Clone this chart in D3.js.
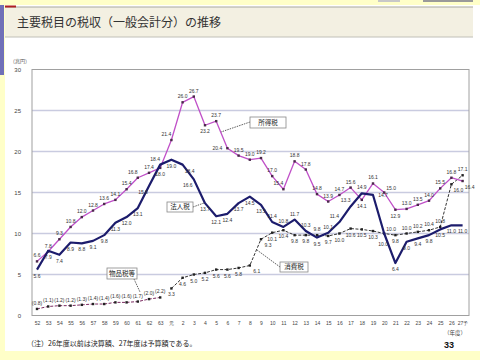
<!DOCTYPE html>
<html><head><meta charset="utf-8">
<script src="https://cdn.jsdelivr.net/npm/d3@7"></script>
<style>
html,body{margin:0;padding:0;background:#ffffc8;}
svg{display:block;font-family:"Noto Sans CJK JP","Noto Sans",sans-serif;}
</style></head><body>
<svg id="c" width="480" height="360"></svg>
<script>
// ---------------- DATA ----------------
const years = ["52","53","54","55","56","57","58","59","60","61","62","63","元",
  "2","3","4","5","6","7","8","9","10","11","12","13","14","15","16","17","18","19",
  "20","21","22","23","24","25","26","27予"];
const incomeTax = [6.6,7.8,9.3,10.8,12.0,12.8,13.6,14.1,15.4,16.8,17.4,18.0,21.4,
  26.0,26.7,23.2,23.7,20.4,19.5,19.0,19.2,17.0,15.4,18.8,17.8,14.8,13.9,14.7,15.6,14.1,16.1,
  15.0,12.9,13.0,13.5,14.0,15.5,16.8,16.4];
const corporateTax = [5.6,7.9,7.4,8.9,8.8,9.1,9.8,11.3,12.0,13.1,15.8,18.4,19.0,
  18.4,16.6,13.7,12.1,12.4,13.7,14.5,13.5,11.4,10.8,11.7,10.3,9.5,10.1,11.4,13.3,14.9,14.7,
  10.0,6.4,9.0,9.4,9.8,10.5,11.0,11.0];
const consumptionTax = [null,null,null,null,null,null,null,null,null,null,null,null,3.3,
  4.6,5.0,5.2,5.6,5.6,5.8,6.1,9.3,10.1,10.4,9.8,9.8,9.8,9.7,10.0,10.6,10.5,10.3,
  10.0,9.8,10.0,10.2,10.4,10.8,16.0,17.1];
const commodityTax = [0.8,1.1,1.2,1.2,1.3,1.4,1.4,1.6,1.6,1.7,2.0,2.2,null,
  null,null,null,null,null,null,null,null,null,null,null,null,null,null,null,null,null,null,
  null,null,null,null,null,null,null,null];
const yTicks = [0,5,10,15,20,25,30];
const seriesNames = ["所得税","法人税","消費税","物品税等"];
const title = "主要税目の税収（一般会計分）の推移";
const unitLabel = "（兆円）";
const yearUnit = "（年度）";
const note = "（注）26年度以前は決算額、27年度は予算額である。";
const pageNo = "33";

// ---------------- LAYOUT (label placement codes) ----------------
const incomePos = ["t","t","t","t","t","t","t","t","t","tl","t","b","tl",
  "t","t","b","t","l","t","t","t","t","tl","t","t","t","t","t","t","b","t",
  "tr","b","t","t","t","t","t","br"];
const corporatePos = ["b","b","b","b","b","b","b","b","b","b","bl","tl","b",
  "br","bl","b","b","b","b","b","b","t","t","t","t","b","t","tl","tl","t","r",
  "tr","b","b","b","b","b","b","b"];
const consumptionPos = ["","","","","","","","","","","","","b",
  "b","b","b","b","b","b","br","br","b","b","b","b","t","b","b","b","b","b",
  "bb","b","t","t","t","t","br","t"];
const commodityPos = years.map(()=>"t");
const offsets = {t:[0,-4],b:[0,8],bb:[-1,12.5],l:[-10,2],r:[10,2],tl:[-5,-4],tr:[7,-3],bl:[-6,8],br:[7,8]};

// ---------------- DRAW ----------------
const svg = d3.select("#c");
// page frame
svg.append("rect").attr("x",5).attr("y",5).attr("width",475).attr("height",346).attr("fill","#fff");
svg.append("rect").attr("x",0).attr("y",5).attr("width",4).attr("height",70).attr("fill","#7070b8");
svg.append("rect").attr("x",423).attr("y",0).attr("width",50).attr("height",2).attr("fill","#9a9a9a");
svg.append("rect").attr("x",378).attr("y",0).attr("width",22).attr("height",2).attr("fill","#c8c8c8");
// title bar
svg.append("rect").attr("x",5).attr("y",7).attr("width",468).attr("height",30).attr("fill","#f3f0e2");
svg.append("line").attr("x1",5).attr("x2",473).attr("y1",7).attr("y2",7).attr("stroke","#a8a8a0").attr("stroke-width",1.2);
svg.append("line").attr("x1",5).attr("x2",473).attr("y1",37).attr("y2",37).attr("stroke","#c0c0b8").attr("stroke-width",1);
svg.append("rect").attr("x",5).attr("y",5.5).attr("width",11).attr("height",2).attr("fill","#b02020");
svg.append("text").attr("x",17).attr("y",27).attr("font-size",12).attr("fill","#333").text(title);

const x = d3.scalePoint().domain(years).range([37, 462.6]);
const y = d3.scaleLinear().domain([0,30]).range([315.5, 69.5]);

// gridlines
svg.append("g").selectAll("line").data(yTicks.slice(1,-1)).join("line")
  .attr("x1",32).attr("x2",469).attr("y1",d=>y(d)).attr("y2",d=>y(d))
  .attr("stroke","#c9cbe0").attr("stroke-width",1.5);
// plot border
svg.append("rect").attr("x",32).attr("y",y(30)).attr("width",437).attr("height",y(0)-y(30))
  .attr("fill","none").attr("stroke","#a0a0a0").attr("stroke-width",1);

// axes
const yAxis = svg.append("g").attr("transform","translate(32,0)")
  .call(d3.axisLeft(y).tickValues(yTicks).tickSize(0).tickPadding(11));
yAxis.select(".domain").remove();
yAxis.selectAll("text").attr("font-size",6).attr("fill","#444").attr("font-family","Arial, Liberation Sans, sans-serif");
const xAxis = svg.append("g").attr("transform",`translate(0,${y(0)})`)
  .call(d3.axisBottom(x).tickSize(0).tickPadding(6));
xAxis.select(".domain").remove();
xAxis.selectAll("text").attr("font-size",5).attr("fill","#444");
svg.append("text").attr("x",10).attr("y",63).attr("font-size",5).attr("fill","#555").text(unitLabel);
svg.append("text").attr("x",444).attr("y",335).attr("font-size",5.5).attr("fill","#444").text(yearUnit);

// series
function drawSeries(vals, color, width, dash, markers){
  const line = d3.line().defined(d=>d!=null).x((d,i)=>x(years[i])).y(d=>y(d));
  svg.append("path").datum(vals).attr("d",line).attr("fill","none")
    .attr("stroke",color).attr("stroke-width",width).attr("stroke-dasharray",dash)
    .attr("stroke-linejoin","round");
  if(markers){
    svg.append("g").selectAll("rect").data(vals.map((v,i)=>({v,i})).filter(d=>d.v!=null)).join("rect")
      .attr("x",d=>x(years[d.i])-1.2).attr("y",d=>y(d.v)-1.2).attr("width",2.4).attr("height",2.4)
      .attr("fill",markers);
  }
}
function drawLabels(vals, pos, fmt){
  svg.append("g").selectAll("text").data(vals.map((v,i)=>({v,i})).filter(d=>d.v!=null)).join("text")
    .attr("x",d=>x(years[d.i])+offsets[pos[d.i]][0])
    .attr("y",d=>y(d.v)+offsets[pos[d.i]][1])
    .attr("text-anchor","middle").attr("font-size",5).attr("fill","#333")
    .attr("font-family","Arial, Liberation Sans, sans-serif")
    .text(d=>fmt(d.v));
}
const f1 = d3.format(".1f");
drawSeries(commodityTax,"#7a2a60",1,"3,1.5","#222");
drawSeries(consumptionTax,"#333",1,"3,1.5","#222");
drawSeries(incomeTax,"#c050c8",1.3,null,"#4a2a4a");
drawSeries(corporateTax,"#1c1c6c",2.2,null,null);

drawLabels(incomeTax,incomePos,f1);
drawLabels(corporateTax,corporatePos,f1);
drawLabels(consumptionTax,consumptionPos,f1);
drawLabels(commodityTax,commodityPos,v=>"("+f1(v)+")");

// callouts
function callout(bx,by,bw,bh,txt,lx1,ly1,lx2,ly2){
  svg.append("line").attr("x1",lx1).attr("y1",ly1).attr("x2",lx2).attr("y2",ly2)
    .attr("stroke","#333").attr("stroke-width",0.8).attr("stroke-dasharray","1.5,1");
  svg.append("rect").attr("x",bx).attr("y",by).attr("width",bw).attr("height",bh)
    .attr("fill","#fff").attr("stroke","#888").attr("stroke-width",0.8);
  svg.append("text").attr("x",bx+bw/2).attr("y",by+bh/2+2.4).attr("text-anchor","middle")
    .attr("font-size",6.5).attr("fill","#222").text(txt);
}
callout(250,117,36,11,seriesNames[0],250,122,221,132);
callout(167,202,26,10,seriesNames[1],193,207,204,203);
callout(280,262,28,10,seriesNames[2],280,267,257,250);
callout(107,268,30,11,seriesNames[3],134,279,140,292);

// footnote & page number
svg.append("text").attr("x",27).attr("y",346).attr("font-size",7).attr("fill","#222").text(note);
svg.append("text").attr("x",444).attr("y",348).attr("font-size",9).attr("font-weight","bold").attr("fill","#111")
  .attr("font-family","Arial, Liberation Sans, sans-serif").text(pageNo);
</script>
</body></html>
